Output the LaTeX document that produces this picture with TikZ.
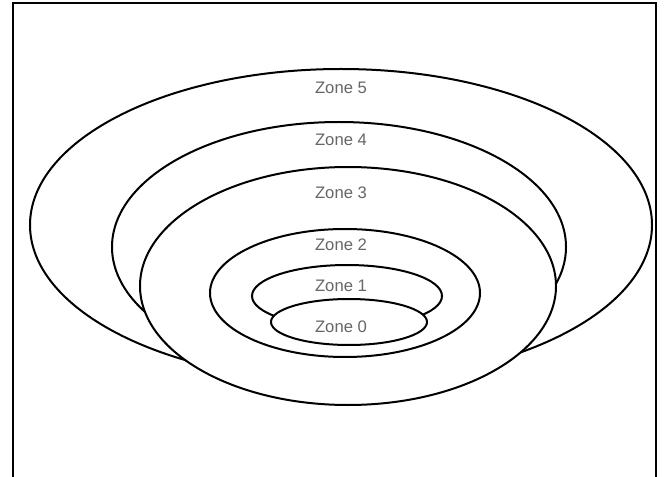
\documentclass[tikz,border=0pt]{standalone}
\usepackage{fontspec}
\setsansfont{Liberation Sans}
\usetikzlibrary{positioning}
\tikzset{
  zone/.style={line width=1.5pt,black},
  zfill/.style={zone,fill=white},          % ring drawn over the ones behind it
  zlbl/.style={font=\sffamily\fontsize{12.5}{14}\selectfont,text=black!60,inner sep=1pt},
  frame/.style={line width=1.5pt},
}
\begin{document}
\begin{tikzpicture}[x=0.75pt,y=-0.75pt]
  \useasboundingbox (0,0) rectangle (667,477);
  \draw[frame] (13,477) -- (13,3) -- (656,3) -- (656,477);
  % outer rings, partly hidden by zone 3
  \draw[zone] (341,225) ellipse [x radius=311,y radius=156];
  \draw[zone] (339,247) ellipse [x radius=227,y radius=125];
  \filldraw[zfill] (348,286) ellipse [x radius=208,y radius=119];
  \draw[zone] (345,293) ellipse [x radius=135,y radius=64];
  \draw[zone] (347,296) ellipse [x radius=95,y radius=31];
  \filldraw[zfill] (349,322) ellipse [x radius=78,y radius=23];
  % labels
  \foreach \n/\y in {5/88,4/140,3/193,2/245,1/286,0/327}
    \node[zlbl] (z\n) at (341,\y) {Zone \n};
\end{tikzpicture}
\end{document}
